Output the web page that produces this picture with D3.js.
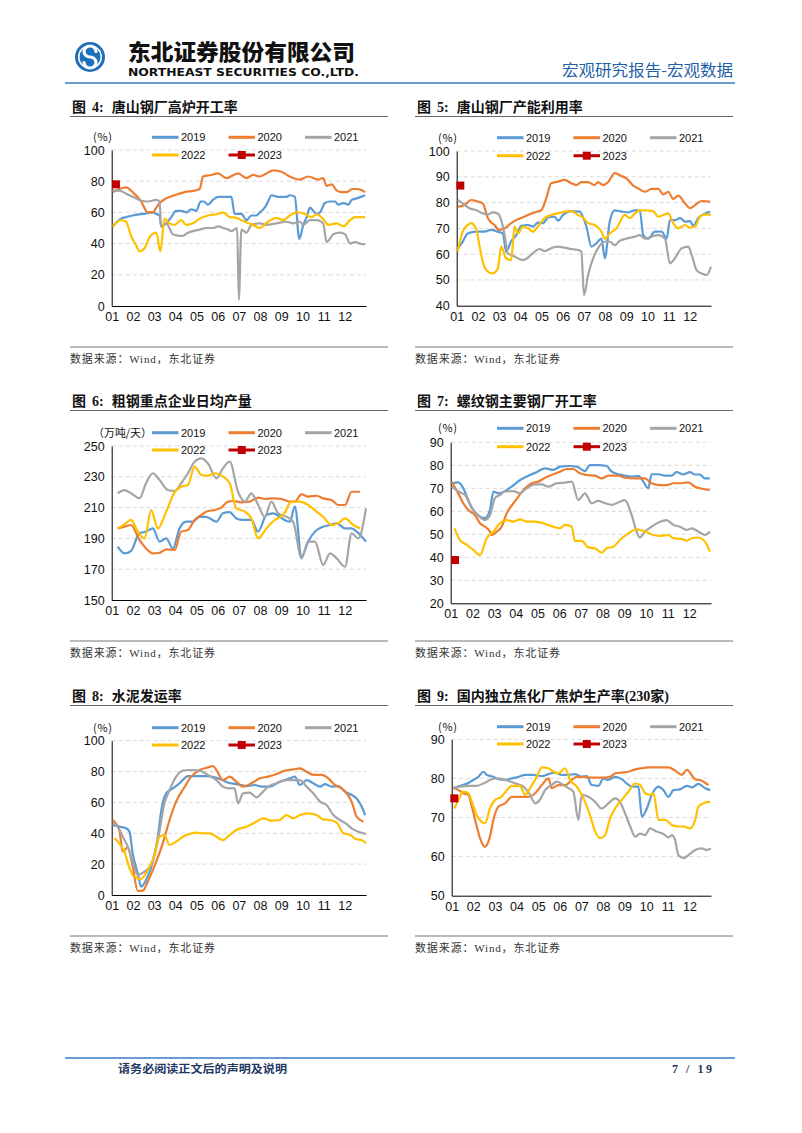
<!DOCTYPE html>
<html><head><meta charset="utf-8">
<script src="https://cdn.jsdelivr.net/npm/d3@7"></script>
<style>body{margin:0;background:#fff}svg{display:block}</style>
</head><body>
<svg id="page" width="802" height="1133"></svg>
<script>
// ---------- labels ----------
const monthLabels = ["01","02","03","04","05","06","07","08","09","10","11","12"];
const yearNames = ["2019","2020","2021","2022","2023"];
const yearColors = ["#5B9BD5","#ED7D31","#A5A5A5","#FFC000","#C00000"];

// ---------- data: [month offset (0-12), value] ----------
// 图4 唐山钢厂高炉开工率 (%)
const f4_2019 = [[0.05,51],[0.44,56],[0.68,57],[0.99,58],[1.47,59],[1.94,60],[2.1,59],[2.26,58],[2.33,51],[2.57,53],[2.81,57],[3.04,61],[3.28,61],[3.52,60],[3.75,62],[3.99,61],[4.2,67],[4.35,67],[4.54,65],[4.78,68],[5.02,70],[5.25,70],[5.65,70],[5.8,59],[6.12,59],[6.36,55],[6.59,58],[6.83,58],[6.99,60],[7.22,63],[7.38,67],[7.54,71],[7.85,70],[8.25,70],[8.41,71],[8.64,70],[8.85,43],[9.04,52],[9.2,57],[9.35,63],[9.51,61],[9.67,59],[9.83,60],[10.06,66],[10.3,67],[10.54,67],[10.69,65],[10.93,66],[11.17,65],[11.32,68],[11.56,69],[11.96,71]];
const f4_2020 = [[0.05,73],[0.36,75],[0.68,76],[0.99,73],[1.39,67],[1.7,60],[1.94,60],[2.1,63],[2.26,66],[2.57,69],[2.97,71],[3.44,73],[3.91,74],[4.15,75],[4.31,83],[4.7,84],[5.02,85],[5.41,82],[5.96,85],[6.36,82],[6.67,84],[6.99,83],[7.3,85],[7.62,87],[8.01,86],[8.41,83],[8.88,81],[9.27,83],[9.75,81],[9.98,82],[10.14,77],[10.38,78],[10.62,74],[10.85,73],[11.09,73],[11.35,75],[11.6,75],[11.96,73]];
const f4_2021 = [[0.05,74],[0.36,74],[0.68,72],[0.99,70],[1.31,68],[1.7,67],[2.1,68],[2.26,67],[2.33,51],[2.57,53],[2.89,46],[3.2,45],[3.36,45],[3.6,47],[3.83,48],[4.15,49],[4.46,50],[4.78,50],[5.02,51],[5.25,50],[5.49,49],[5.65,48],[5.8,49],[5.92,50],[6.0,4],[6.12,49],[6.36,47],[6.59,52],[6.99,53],[7.3,52],[7.78,53],[8.25,54],[8.56,53],[8.88,54],[9.04,52],[9.35,55],[9.67,55],[9.98,53],[10.14,41],[10.46,46],[10.77,47],[11.01,46],[11.25,40],[11.48,41],[11.72,40],[11.96,39.5]];
const f4_2022 = [[0.05,51],[0.44,55],[0.68,54],[0.91,45],[1.15,39],[1.31,35],[1.55,37],[1.78,44],[2.1,47],[2.3,35],[2.49,56],[2.73,53],[2.97,52],[3.28,55],[3.52,52],[3.83,53],[4.15,56],[4.54,58],[5.02,59],[5.25,60],[5.57,57],[5.88,56.5],[6.28,54],[6.67,52],[6.99,50],[7.38,54],[7.78,56.5],[8.09,55],[8.41,58],[8.72,60],[9.12,59],[9.43,57],[9.67,58.7],[9.98,55.7],[10.22,52],[10.62,53],[10.93,51],[11.25,55],[11.48,57],[11.96,57]];
const f4_2023 = [[0.2,78]];

// 图5 唐山钢厂产能利用率 (%)
const f5_2019 = [[0.05,62.3],[0.28,64.8],[0.52,68],[0.91,68.7],[1.31,68.7],[1.62,69.4],[1.94,68.7],[2.18,68],[2.33,61],[2.57,65],[2.81,67.4],[3.04,71],[3.36,71.3],[3.6,70.7],[3.83,72.2],[4.07,72],[4.31,74.2],[4.62,74.5],[4.78,73],[5.02,75.2],[5.41,76.7],[5.8,76.5],[6.12,70.7],[6.36,62.9],[6.59,64.2],[6.83,66],[6.99,58.4],[7.22,72.6],[7.46,77],[7.78,76.5],[8.09,76.2],[8.41,77],[8.64,77],[8.8,67.4],[9.04,66],[9.35,68.7],[9.67,68.7],[9.91,66],[10.06,73.2],[10.3,73.2],[10.54,74],[10.77,72.6],[11.01,72.8],[11.17,71],[11.4,74],[11.72,75.8],[11.96,76.5]];
const f5_2020 = [[0.05,78.4],[0.36,79],[0.68,81],[0.99,80.4],[1.23,79.7],[1.47,73.9],[1.78,71.3],[2.02,69.4],[2.26,70],[2.57,72],[2.81,73.2],[3.04,74],[3.36,75.2],[3.68,76.2],[3.99,77],[4.23,81.7],[4.46,87.5],[4.78,88.1],[5.09,88.8],[5.41,87.5],[5.65,86.8],[5.88,87.9],[6.2,87.9],[6.51,86.8],[6.67,87.9],[6.91,86.8],[7.15,88],[7.46,91.4],[7.78,90.3],[8.01,89.4],[8.33,86.6],[8.56,85.5],[8.88,84.2],[9.2,85.3],[9.51,85.3],[9.75,83.2],[9.98,84.2],[10.22,81.4],[10.46,82.7],[10.77,79.7],[11.01,77.8],[11.25,79],[11.56,80.6],[11.96,80.4]];
const f5_2021 = [[0.05,81],[0.28,79.7],[0.6,77.8],[0.91,77.1],[1.23,75.8],[1.47,75.4],[1.7,76.2],[1.94,75.8],[2.1,73.2],[2.26,67.4],[2.41,60.3],[2.57,59.7],[2.89,58.4],[3.12,57.7],[3.36,58.6],[3.68,61],[3.91,62],[4.15,61.2],[4.46,62.3],[4.78,62.9],[5.09,62.5],[5.41,62],[5.73,61.6],[5.88,61],[6.01,44.1],[6.2,51.9],[6.44,58.4],[6.67,62.3],[6.99,64.8],[7.22,64.8],[7.46,63.5],[7.7,65.2],[8.01,66],[8.41,66.8],[8.64,67.4],[8.88,66],[9.2,66.8],[9.51,67.4],[9.83,66],[10.06,56.4],[10.3,58.4],[10.62,62.3],[10.93,62.9],[11.09,59.7],[11.32,53.8],[11.56,52.5],[11.8,51.9],[12,55.1]];
const f5_2022 = [[0.05,61],[0.28,68.7],[0.52,71.3],[0.68,72],[0.91,70],[1.07,63.5],[1.23,57],[1.47,53.2],[1.7,52.5],[1.94,54.5],[2.1,62.9],[2.33,58.4],[2.57,57.7],[2.73,70.7],[2.89,68],[3.12,70.7],[3.36,70],[3.6,68.7],[3.83,70.7],[4.15,74],[4.46,75.2],[4.78,75.8],[5.09,76.5],[5.41,76.7],[5.73,75.2],[5.96,74.2],[6.2,72],[6.51,71.3],[6.83,68.7],[6.99,66],[7.22,68],[7.54,70],[7.93,75.2],[8.17,74],[8.41,75.8],[8.64,77],[8.88,77],[9.27,76.7],[9.51,74.5],[9.98,75.8],[10.22,72],[10.46,70],[10.77,71.3],[11.01,70.3],[11.25,70.7],[11.48,74.5],[11.72,75.4],[12,75.2]];
const f5_2023 = [[0.17,86.6]];

// 图6 粗钢重点企业日均产量 (万吨/天)
const f6_2019 = [[0.28,184.6],[0.6,180.3],[0.91,181.8],[1.31,193.3],[1.62,194.4],[1.94,196.5],[2.26,187.9],[2.57,190],[2.89,183.5],[3.2,196.5],[3.52,200.9],[3.83,200.9],[4.15,204],[4.46,204],[4.94,200.9],[5.25,206.3],[5.57,207],[5.88,203],[6.2,202],[6.59,202],[6.91,194.4],[7.3,205.2],[7.62,206.3],[7.93,204],[8.25,201.3],[8.41,200.9],[8.64,210.6],[8.96,178.1],[9.27,187.9],[9.59,194.4],[9.98,197.6],[10.3,198.7],[10.62,199.8],[11.01,196.5],[11.32,196.5],[11.56,194.4],[12,187.9]];
const f6_2020 = [[0.28,196.5],[0.6,197.6],[0.91,198.7],[1.31,189],[1.62,183.5],[1.94,180.3],[2.26,180.7],[2.57,182.9],[2.97,182.5],[3.28,194.4],[3.6,195.5],[3.91,202],[4.23,205.2],[4.54,207.8],[4.86,208.4],[5.17,210],[5.49,213.9],[5.73,214.3],[6.12,213.4],[6.51,213.9],[6.91,216.5],[7.22,215.6],[7.62,216],[8.01,215.6],[8.41,213.9],[8.64,213.9],[8.96,218.6],[9.27,217.1],[9.67,217.7],[9.98,216],[10.38,214.9],[10.69,211.7],[11.01,211.7],[11.32,220.3],[11.72,220.3]];
const f6_2021 = [[0.28,219.3],[0.6,221.4],[0.91,219.3],[1.31,216],[1.62,225.8],[1.94,232.3],[2.26,227.9],[2.65,221.4],[2.97,220.8],[3.28,225.8],[3.6,232.3],[3.91,239.8],[4.23,242],[4.54,238.7],[4.94,229],[5.25,235.5],[5.57,239.8],[5.96,220.3],[6.28,213.9],[6.59,219.3],[6.91,211.7],[7.22,204],[7.54,213.9],[7.85,206.3],[8.25,204],[8.56,200.9],[8.96,177],[9.27,187.9],[9.59,187.9],[9.98,172.7],[10.3,180.3],[10.62,177],[11.01,171.6],[11.32,193.3],[11.64,190],[12,209.5]];
const f6_2022 = [[0.28,196.5],[0.6,199.1],[0.91,202],[1.23,194.4],[1.55,190],[1.86,208.4],[2.18,196.5],[2.57,207.4],[2.97,220],[3.28,223.6],[3.6,224.7],[3.91,236.6],[4.23,231.2],[4.54,230.7],[4.86,232.3],[5.25,230.1],[5.57,225.8],[5.88,209.5],[6.28,207.4],[6.59,203],[6.91,190],[7.3,196.5],[7.7,202],[8.09,205.2],[8.49,213.9],[8.88,213.9],[9.27,211.7],[9.67,207.4],[9.98,204],[10.38,198.7],[10.69,199.8],[11.01,203],[11.4,198.7],[11.72,196.5]];
const f6_2023 = [];

// 图7 螺纹钢主要钢厂开工率 (%)
const f7_2019 = [[0.05,72.2],[0.35,72.6],[0.58,70],[0.81,64.9],[1.04,60.6],[1.35,57.7],[1.58,57],[1.81,60.6],[1.97,68.6],[2.2,67.8],[2.5,68.8],[2.81,70.7],[3.2,73.6],[3.58,75.5],[3.96,77],[4.35,78.7],[4.73,78],[5.04,79.4],[5.42,79.7],[5.81,79.4],[6.19,77.5],[6.42,80.1],[6.8,80.1],[7.19,79.7],[7.42,77.2],[7.73,76.1],[8.03,75.5],[8.34,75.1],[8.65,75.4],[8.88,72.9],[9.11,70],[9.26,76.1],[9.57,76.1],[9.88,75.5],[10.18,75.5],[10.41,77],[10.72,76],[11.03,77],[11.26,76],[11.49,76],[11.72,74.3],[11.95,74.3]];
const f7_2020 = [[0.05,72.6],[0.35,67.8],[0.58,63.5],[0.81,60.6],[1.12,58.4],[1.35,54.8],[1.58,53.3],[1.81,51.2],[1.89,49.7],[2.12,51.2],[2.35,53.3],[2.58,59.1],[2.89,63.5],[3.12,66.4],[3.43,70],[3.73,72.2],[4.04,72.9],[4.35,74.6],[4.73,76.1],[5.04,77.2],[5.35,78.4],[5.65,78.4],[5.96,76.5],[6.27,75.8],[6.65,75.5],[6.96,74.3],[7.27,75.5],[7.73,75.5],[8.03,74.6],[8.49,74.3],[8.96,74.3],[9.26,72.2],[9.65,71.4],[9.95,71.4],[10.26,72.2],[10.65,72.2],[10.95,72.6],[11.26,70.7],[11.64,69.7],[11.95,69.3]];
const f7_2021 = [[0.05,70.7],[0.35,68.6],[0.66,67.1],[0.97,61.3],[1.27,58.1],[1.58,56.2],[1.81,58.4],[2.04,65.7],[2.27,67.1],[2.5,68.6],[2.89,68.8],[3.2,67.8],[3.5,70],[3.89,71.7],[4.19,71.7],[4.5,70.7],[4.88,72.2],[5.27,72.5],[5.58,72.9],[5.88,64.9],[6.19,67.8],[6.5,63.5],[6.8,64.5],[7.12,63.5],[7.42,62.8],[7.73,63.9],[8.03,64.9],[8.34,58.4],[8.57,51.2],[8.72,48.6],[8.96,51.2],[9.26,53.3],[9.65,55.5],[9.95,56.2],[10.26,54.1],[10.57,53.3],[10.88,51.9],[11.11,52.6],[11.41,51.2],[11.72,49.7],[11.95,51.2]];
const f7_2022 = [[0.17,52.6],[0.43,47.5],[0.74,45.4],[1.04,43.2],[1.35,41],[1.66,48.3],[1.97,51.2],[2.27,54.8],[2.58,56.2],[2.89,55.5],[3.2,56.5],[3.5,55.5],[3.81,55.5],[4.12,55.2],[4.42,54.3],[4.73,53.3],[5.04,52.6],[5.27,54.1],[5.58,53.3],[5.73,47.1],[6.04,47.1],[6.34,44.3],[6.65,43.9],[6.96,42],[7.19,43.9],[7.5,44.6],[7.8,47.5],[8.19,50.4],[8.57,52.2],[8.96,51.2],[9.34,49.7],[9.72,49.3],[10.03,49.7],[10.26,48.3],[10.65,48],[10.88,47.2],[11.11,48.3],[11.41,48.6],[11.72,46.8],[11.95,42.5]];
const f7_2023 = [[0.2,38.8]];

// 图8 水泥发运率 (%)
const f8_2019 = [[0.05,45.4],[0.36,44.3],[0.68,43.2],[0.84,41],[0.99,27],[1.23,14],[1.39,5.4],[1.62,9.7],[1.94,21.6],[2.18,37.8],[2.33,54],[2.57,65.9],[2.89,69.1],[3.2,72.4],[3.6,77.1],[3.99,77.1],[4.46,77.1],[4.86,76.2],[5.17,74.9],[5.49,72.8],[5.88,71.9],[6.36,70.6],[6.75,71.3],[7.07,70.2],[7.46,70.2],[7.93,73.4],[8.41,75.6],[8.64,76.7],[8.88,71.3],[9.2,74.5],[9.51,72.4],[9.83,70.2],[10.06,71.9],[10.38,70.2],[10.69,70.6],[11.01,67],[11.32,64.8],[11.56,62.6],[11.8,57.2],[11.96,51.8]];
const f8_2020 = [[0.05,48.6],[0.36,42],[0.52,28.1],[0.76,31],[0.99,18.4],[1.23,2.6],[1.47,2.8],[1.7,8.6],[2.1,21.6],[2.41,33.5],[2.73,48.6],[3.04,60.5],[3.44,70],[3.75,76.7],[4.15,81],[4.54,82.7],[4.78,83.6],[4.94,81],[5.25,74.5],[5.57,76.7],[5.88,73.4],[6.2,70.2],[6.59,72.4],[6.99,75.6],[7.38,76.7],[7.78,78.4],[8.17,80.6],[8.56,81.4],[8.88,82.1],[9.2,79.9],[9.51,77.8],[9.91,77.8],[10.22,75.6],[10.54,71.3],[10.85,69.1],[11.09,65.9],[11.32,60.5],[11.56,50.8],[11.88,47.5]];
const f8_2021 = [[0.05,46.4],[0.28,44.3],[0.52,37.8],[0.76,31.3],[0.99,21.6],[1.23,13],[1.55,15.1],[1.86,19.4],[2.18,35.6],[2.49,59.4],[2.73,68],[3.04,76.7],[3.36,80.6],[3.68,81],[4.15,80.6],[4.54,77.8],[4.94,74.5],[5.25,70.2],[5.57,69.1],[5.8,69.1],[5.96,59.4],[6.2,65.9],[6.51,66.3],[6.83,63.3],[7.07,65.9],[7.38,70.2],[7.78,72.4],[8.25,74.5],[8.56,74.5],[8.88,74.5],[9.2,70.2],[9.51,65.9],[9.83,60.5],[10.14,58.3],[10.46,51.8],[10.77,48.6],[11.09,46],[11.32,43.2],[11.64,41],[12,39.5]];
const f8_2022 = [[0.13,36.7],[0.36,33.5],[0.6,28.1],[0.84,17.3],[1.07,11.9],[1.39,10.4],[1.7,16.2],[2.02,25.9],[2.26,37.8],[2.49,38.9],[2.73,32.4],[3.04,34.6],[3.36,37.8],[3.68,39.5],[3.99,40.4],[4.31,40],[4.62,40],[4.94,37.8],[5.25,35.6],[5.57,38.9],[5.88,42.1],[6.36,44.3],[6.75,46.9],[7.15,49.7],[7.54,48.2],[7.93,48.6],[8.25,51.8],[8.56,49.7],[8.88,51.8],[9.27,52.9],[9.67,51.8],[9.98,49],[10.3,48.6],[10.62,46.9],[10.93,40],[11.25,38.9],[11.56,36.1],[11.8,35.6],[12,33.5]];
const f8_2023 = [];

// 图9 国内独立焦化厂焦炉生产率(230家) (%)
const f9_2019 = [[0.08,77.5],[0.39,78.1],[0.69,78.6],[1.0,79.6],[1.23,80.4],[1.47,81.7],[1.62,80.9],[1.93,80.4],[2.16,79.8],[2.47,79.6],[2.78,80],[3.09,80.4],[3.4,80.9],[3.78,80.9],[4.17,80.6],[4.48,81.1],[4.78,81.5],[5.09,80.9],[5.4,80.9],[5.71,81.1],[6.02,80.4],[6.25,80.6],[6.48,78.3],[6.79,78.1],[7.02,80],[7.25,79.6],[7.56,80.4],[7.87,79.8],[8.1,78.7],[8.33,77.9],[8.64,77.9],[8.8,70.2],[9.03,72.3],[9.26,75.8],[9.57,77.9],[9.8,77],[10.03,75.3],[10.26,77],[10.57,77.2],[10.88,78.1],[11.11,77.7],[11.42,78.6],[11.73,77.5],[11.96,77]];
const f9_2020 = [[0.08,77.7],[0.31,77],[0.54,76.2],[0.77,75.8],[0.93,72.8],[1.16,67.7],[1.31,64.7],[1.54,62.5],[1.77,65.1],[1.93,69.4],[2.16,72.8],[2.47,73.6],[2.78,75.3],[3.16,75.3],[3.55,75.3],[3.86,76.2],[4.17,78.3],[4.48,80],[4.63,77.5],[4.94,78.3],[5.25,78.3],[5.56,79.6],[5.79,80.4],[6.1,80.4],[6.4,80.2],[6.71,80.2],[7.02,80.2],[7.33,80.4],[7.56,81.3],[7.87,81.5],[8.18,81.7],[8.49,82.3],[8.8,82.6],[9.1,82.8],[9.41,82.8],[9.72,82.8],[10.03,82.8],[10.34,82],[10.65,80.9],[10.88,82.2],[11.27,79.8],[11.57,79.4],[11.88,78.3]];
const f9_2021 = [[0.08,77.5],[0.39,77.9],[0.77,78.1],[1.16,78.1],[1.47,78.7],[1.77,79.6],[2.08,80],[2.39,79.8],[2.7,79.2],[3.01,78.6],[3.32,77.9],[3.63,75.8],[3.86,73.6],[4.09,74.6],[4.32,77],[4.63,78.3],[4.86,79.2],[5.09,78.6],[5.4,77.5],[5.63,76.6],[5.86,69.4],[6.02,75.8],[6.33,75.3],[6.64,74],[6.94,72.3],[7.25,73.6],[7.56,74.9],[7.79,74],[8.02,71.1],[8.26,67.7],[8.49,65.1],[8.72,65.9],[8.95,65.5],[9.18,67.2],[9.49,66.4],[9.8,65.8],[10.03,64.9],[10.19,65.5],[10.34,64.2],[10.49,60.4],[10.73,59.6],[10.96,60.4],[11.27,61.7],[11.57,62.1],[11.81,61.7],[12,62.1]];
const f9_2022 = [[0.12,72.3],[0.31,74.5],[0.54,76.6],[0.77,76.2],[0.93,74],[1.16,70.6],[1.39,68.9],[1.54,68.5],[1.77,72.3],[2.01,74.5],[2.31,75.3],[2.55,77],[2.78,78.1],[3.16,78.1],[3.4,75.8],[3.63,77.5],[3.94,80.4],[4.17,82.8],[4.48,82.6],[4.71,81.7],[4.94,81.3],[5.25,82.6],[5.48,79.6],[5.79,77.9],[6.1,74.9],[6.4,70.6],[6.64,66.4],[6.87,64.7],[7.1,65.5],[7.33,69.8],[7.56,72.3],[7.87,74.5],[8.18,76.6],[8.49,78.7],[8.72,78.3],[8.95,76.2],[9.18,75.8],[9.34,76.2],[9.57,69.4],[9.88,69.4],[10.19,68.1],[10.49,67.7],[10.73,67.7],[11.03,67.2],[11.27,69.4],[11.42,72.8],[11.73,73.8],[11.96,74]];
const f9_2023 = [[0.12,74.9]];

// ---------- y ticks per chart ----------
const f4_ticks = [0,20,40,60,80,100];
const f5_ticks = [40,50,60,70,80,90,100];
const f6_ticks = [150,170,190,210,230,250];
const f7_ticks = [20,30,40,50,60,70,80,90];
const f8_ticks = [0,20,40,60,80,100];
const f9_ticks = [50,60,70,80,90];

// ---------- chart configs (layout separate from data) ----------
const charts = [
  {num:"4", title:"唐山钢厂高炉开工率", unit:"(%)", ticks:f4_ticks, series:[f4_2019,f4_2020,f4_2021,f4_2022,f4_2023], col:0, row:0, x0:111.7, x1:366, yT:150, yB:306, legY:[137.3,155]},
  {num:"5", title:"唐山钢厂产能利用率", unit:"(%)", ticks:f5_ticks, series:[f5_2019,f5_2020,f5_2021,f5_2022,f5_2023], col:1, row:0, x0:456.7, x1:711, yT:151, yB:305.7, legY:[137.7,155.7]},
  {num:"6", title:"粗钢重点企业日均产量", unit:"（万吨/天）", ticks:f6_ticks, series:[f6_2019,f6_2020,f6_2021,f6_2022,f6_2023], col:0, row:1, x0:111.7, x1:366, yT:446, yB:600, legY:[432.7,450]},
  {num:"7", title:"螺纹钢主要钢厂开工率", unit:"(%)", ticks:f7_ticks, series:[f7_2019,f7_2020,f7_2021,f7_2022,f7_2023], col:1, row:1, x0:450.7, x1:711, yT:442.3, yB:603.3, legY:[428.3,446.7]},
  {num:"8", title:"水泥发运率", unit:"(%)", ticks:f8_ticks, series:[f8_2019,f8_2020,f8_2021,f8_2022,f8_2023], col:0, row:2, x0:111.7, x1:366, yT:740.7, yB:895, legY:[727.7,745]},
  {num:"9", title:"国内独立焦化厂焦炉生产率(230家)", unit:"(%)", ticks:f9_ticks, series:[f9_2019,f9_2020,f9_2021,f9_2022,f9_2023], col:1, row:2, x0:451.7, x1:711, yT:739.3, yB:895.7, legY:[726.7,744]}
];

const svg = d3.select("#page");
const SANS = "'Liberation Sans', Arial, 'Noto Sans CJK SC', sans-serif";
const CJK = "'Noto Sans CJK SC', sans-serif";
const SERIF = "'Liberation Serif', 'Noto Sans CJK SC', serif";

// ---------- header ----------
const hdr = svg.append("g");
hdr.append("circle").attr("cx",90).attr("cy",57).attr("r",15).attr("fill","#1e6fba");
hdr.append("circle").attr("cx",90).attr("cy",57).attr("r",12).attr("fill","#fff");
hdr.append("circle").attr("cx",90).attr("cy",57).attr("r",10.5).attr("fill","#1e6fba");
hdr.append("path").attr("d","M96,51.5 A6,5.5 0 1 0 90,57 A6,5.5 0 1 1 84,62.5")
  .attr("fill","none").attr("stroke","#fff").attr("stroke-width",3.2).attr("stroke-linecap","round");
hdr.append("text").attr("x",128).attr("y",60).attr("font-family",CJK).attr("font-weight",900)
  .attr("font-size",22).attr("textLength",227).attr("lengthAdjust","spacingAndGlyphs").attr("fill","#111").text("东北证券股份有限公司");
hdr.append("text").attr("x",128).attr("y",76).attr("font-family","'DejaVu Sans', sans-serif").attr("font-weight",700)
  .attr("font-size",10).attr("textLength",231).attr("lengthAdjust","spacingAndGlyphs").attr("fill","#111").text("NORTHEAST SECURITIES CO.,LTD.");
hdr.append("text").attr("x",733).attr("y",76).attr("text-anchor","end").attr("font-family",CJK)
  .attr("font-size",15.5).attr("textLength",171).attr("lengthAdjust","spacingAndGlyphs").attr("fill","#1f5fa6").text("宏观研究报告-宏观数据");
hdr.append("line").attr("x1",65).attr("x2",735).attr("y1",83).attr("y2",83).attr("stroke","#3a7bc2").attr("stroke-width",1.6);

// ---------- footer ----------
svg.append("line").attr("x1",65).attr("x2",735).attr("y1",1058).attr("y2",1058).attr("stroke","#3a7bc2").attr("stroke-width",1.6);
svg.append("text").attr("x",118).attr("y",1073).attr("font-family",SERIF).attr("font-weight",700).attr("font-size",11)
  .attr("textLength",169).attr("lengthAdjust","spacingAndGlyphs").attr("fill","#1f3864").text("请务必阅读正文后的声明及说明");
svg.append("text").attr("x",672).attr("y",1073).attr("font-family",SERIF).attr("font-weight",700)
  .attr("font-size",12).attr("textLength",40).attr("lengthAdjust","spacing").attr("fill","#1f3864").text("7 / 19");

// ---------- charts ----------
const rowOff = [0, 294, 589];
charts.forEach(c => {
  const dx = c.col * 345;
  const ro = rowOff[c.row];
  const g = svg.append("g");

  // title
  const t = g.append("text").attr("x",72+dx).attr("y",112+ro).attr("font-size",14).attr("font-weight",700).attr("fill","#111");
  t.append("tspan").attr("font-family",CJK).text("图");
  t.append("tspan").attr("font-family",SERIF).attr("dx",6).text(c.num + ":");
  t.append("tspan").attr("font-family",SERIF).attr("dx",8).text(c.title);
  g.append("line").attr("x1",70+dx).attr("x2",388+dx).attr("y1",116.5+ro).attr("y2",116.5+ro).attr("stroke","#666").attr("stroke-width",1);

  // source
  g.append("line").attr("x1",70+dx).attr("x2",388+dx).attr("y1",347+ro).attr("y2",347+ro).attr("stroke","#777").attr("stroke-width",1);
  g.append("text").attr("x",70+dx).attr("y",363+ro).attr("font-family",SERIF).attr("font-size",11)
    .attr("textLength",145).attr("lengthAdjust","spacing").attr("fill","#333").text("数据来源：Wind，东北证券");

  const yMin = c.ticks[0], yMax = c.ticks[c.ticks.length-1];
  const x = d3.scaleLinear().domain([0,12]).range([c.x0,c.x1]);
  const y = d3.scaleLinear().domain([yMin,yMax]).range([c.yB,c.yT]);

  // grid
  g.append("g").selectAll("line").data(c.ticks.slice(1)).join("line")
    .attr("x1",c.x0).attr("x2",c.x1).attr("y1",d=>y(d)).attr("y2",d=>y(d))
    .attr("stroke","#d0d0d0").attr("stroke-width",0.8).attr("stroke-dasharray","4,3");

  // y axis
  const ya = g.append("g").attr("transform",`translate(${c.x0},0)`)
    .call(d3.axisLeft(y).tickValues(c.ticks).tickSize(0).tickPadding(7).tickFormat(d3.format("d")));
  ya.select(".domain").attr("stroke","#000").attr("stroke-width",1);
  ya.selectAll("text").attr("font-family",SANS).attr("font-size",12.5).attr("fill","#111");

  // x axis
  const xa = g.append("g").attr("transform",`translate(0,${c.yB})`)
    .call(d3.axisBottom(x).tickValues(d3.range(0,12)).tickSize(0).tickPadding(6).tickFormat(i=>monthLabels[i]));
  xa.select(".domain").attr("stroke","#000").attr("stroke-width",1);
  xa.selectAll("text").attr("font-family",SANS).attr("font-size",12.5).attr("fill","#111");

  // unit label
  const ul = g.append("text").attr("x",93+dx).attr("y",c.legY[0]+4)
    .attr("font-family",CJK).attr("font-size",11).attr("fill","#111").text(c.unit);
  if (c.unit.length <= 3) ul.attr("textLength",19).attr("lengthAdjust","spacing");
  else ul.attr("textLength",59).attr("lengthAdjust","spacingAndGlyphs");

  // lines
  const line = d3.line().x(d=>x(d[0])).y(d=>y(d[1])).curve(d3.curveMonotoneX);
  c.series.forEach((s,i) => {
    if (s.length > 1) {
      g.append("path").datum(s).attr("d",line).attr("fill","none")
        .attr("stroke",yearColors[i]).attr("stroke-width",2.2).attr("stroke-linejoin","round");
    } else if (s.length === 1) {
      g.append("rect").attr("x",x(s[0][0])-4).attr("y",y(s[0][1])-4).attr("width",8).attr("height",8).attr("fill",yearColors[i]);
    }
  });

  // legend
  const legX = [152, 228.5, 305];
  yearNames.forEach((name,i) => {
    const lx = legX[i % 3] + dx;
    const ly = c.legY[i < 3 ? 0 : 1];
    g.append("line").attr("x1",lx).attr("x2",lx+26.5).attr("y1",ly).attr("y2",ly)
      .attr("stroke",yearColors[i]).attr("stroke-width",3);
    if (i === 4) g.append("rect").attr("x",lx+13.25-4).attr("y",ly-4).attr("width",8).attr("height",8).attr("fill",yearColors[i]);
    g.append("text").attr("x",lx+29).attr("y",ly+4).attr("font-family",SANS).attr("font-size",11).attr("fill","#111").text(name);
  });
});
</script>
</body></html>
